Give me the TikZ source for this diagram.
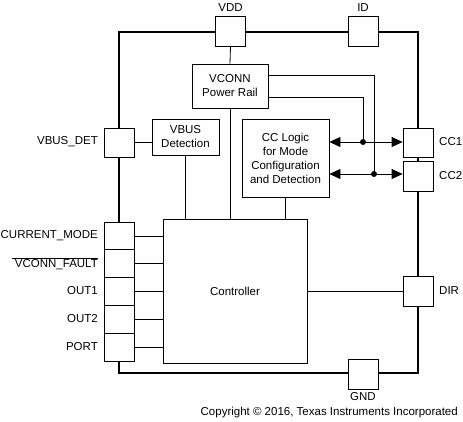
\documentclass[tikz,border=0pt]{standalone}
\usepackage{fontspec}
\setmainfont{Liberation Sans}
\usetikzlibrary{arrows.meta,positioning}

\begin{document}
\begin{tikzpicture}[x=1pt,y=-1pt,
   every node/.style={font=\fontsize{11.5}{14}\selectfont},
   pad/.style={draw,fill=white,line width=0.8pt,minimum width=30pt,minimum height=30pt,inner sep=0pt},
   block/.style={draw,fill=white,line width=0.8pt,align=center,inner sep=0pt},
   padlabel/.style={inner sep=0pt},
   wire/.style={line width=0.8pt},
   biarrow/.style={wire,{Triangle[length=11pt,width=10pt]}-{Triangle[length=11pt,width=10pt]}}]
  \useasboundingbox (0,0) rectangle (463,422);
  % caja exterior
  \draw[line width=2pt] (119,32) rectangle (418,373);
  % --- pads ---
  \node[pad] (vdd) at (230.5,31) {};
  \node[pad] (id) at (363,31) {};
  \node[pad,minimum height=29pt] (vbusdet) at (119,142.5) {};
  \node[pad,minimum height=29pt] (cc1) at (418,142.5) {};
  \node[pad] (cc2) at (418,176) {};
  \node[pad] (dir) at (418,291) {};
  \node[pad] (gnd) at (363,374) {};
  \foreach \n/\y in {pmode/235.9,pfault/263.7,pout1/291.5,pout2/319.3,pport/347.1}
    \node[pad,minimum height=27.8pt] (\n) at (119,\y) {};
  % --- etiquetas ---
  \node[padlabel] (lvdd) at (230.5,8) {VDD};
  \node[padlabel] (lid) at (363,8) {ID};
  \node[padlabel,anchor=east] (lvbusdet) at (98,142) {VBUS\_DET};
  \node[padlabel,anchor=west] (lcc1) at (439,142) {CC1};
  \node[padlabel,anchor=west] (lcc2) at (439,176) {CC2};
  \node[padlabel,anchor=west] (ldir) at (439,291) {DIR};
  \node[padlabel] (lgnd) at (363,397) {GND};
  \node[padlabel,anchor=east] (lmode) at (98,236) {CURRENT\_MODE};
  \node[padlabel,anchor=east] (lfault) at (98,263.5) {$\overline{\mbox{ VCONN\_FAULT}}$};
  \node[padlabel,anchor=east] (lout1) at (98,291) {OUT1};
  \node[padlabel,anchor=east] (lout2) at (98,319) {OUT2};
  \node[padlabel,anchor=east] (lport) at (98,347) {PORT};
  % --- bloques ---
  \node[block,minimum width=76pt,minimum height=44pt] (vconn) at (230,86) {VCONN\\Power Rail};
  \node[block,minimum width=67pt,minimum height=36pt] (vbus) at (185.5,137) {VBUS\\Detection};
  \node[block,minimum width=87pt,minimum height=78pt] (cclogic) at (285.5,158) {CC Logic\\for Mode\\Configuration\\and Detection};
  \node[block,minimum width=144pt,minimum height=144pt] (ctrl) at (235,291) {Controller};
  % --- conexiones ---
  \coordinate (j1) at (363,142);
  \coordinate (j2) at (374,174);
  \draw[wire] (vdd.south) -- (vconn.north);
  \draw[wire] (vconn.south) -- (vconn.south |- ctrl.north);
  \draw[wire] (vbus.south) -- (vbus.south |- ctrl.north);
  \draw[wire] (cclogic.south) -- (cclogic.south |- ctrl.north);
  \draw[wire] (vbusdet.east) -- (vbusdet.east -| vbus.west);
  \draw[biarrow] (cclogic.east |- j1) -- (j1 -| cc1.west);
  \draw[biarrow] (cclogic.east |- j2) -- (j2 -| cc2.west);
  \draw[wire] ([yshift=11pt]vconn.east) -| (j2);
  \draw[wire] ([yshift=-11pt]vconn.east) -| (j1);
  \fill (j1) circle (3pt) (j2) circle (3pt);
  \foreach \n in {pmode,pfault,pout1,pout2,pport}
    \draw[wire] (\n.east) -- (\n.east -| ctrl.west);
  \draw[wire] (ctrl.east) -- (dir.west);
  % --- copyright ---
  \node[padlabel,anchor=east] (copy) at (458,413) {Copyright © 2016, Texas Instruments Incorporated};
\end{tikzpicture}
\end{document}
